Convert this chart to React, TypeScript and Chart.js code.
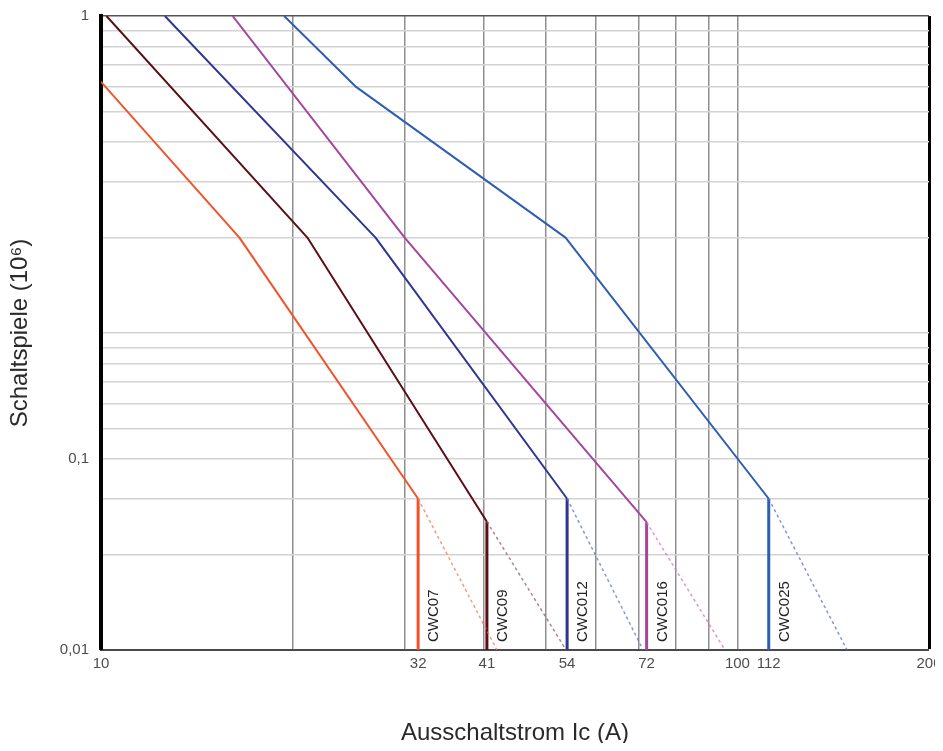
import React, { useEffect, useRef } from 'react';
import { Chart, registerables } from 'chart.js';

Chart.register(...registerables);

// ---- axis ranges ----
const xMin = 10;
const xMax = 200;
const yMin = 0.01;
const yMax = 1;

// ---- series ----
const seriesNames = ['CWC07', 'CWC09', 'CWC012', 'CWC016', 'CWC025'];
const seriesColors = ['#f0532a', '#5a0f17', '#2f3593', '#a4459e', '#2e5db2'];
const dashColors = [
  'rgba(245,120,80,0.75)',
  'rgba(150,90,100,0.75)',
  'rgba(100,110,210,0.75)',
  'rgba(225,110,185,0.75)',
  'rgba(90,115,215,0.75)',
];

const cwc07X = [10, 16.5, 31.5];
const cwc07Y = [0.62, 0.2, 0.03];
const cwc09X = [10.2, 21.1, 40.4];
const cwc09Y = [1, 0.2, 0.0254];
const cwc012X = [12.6, 27, 54];
const cwc012Y = [1, 0.2, 0.03];
const cwc016X = [16.1, 30, 72];
const cwc016Y = [1, 0.2, 0.0253];
const cwc025X = [19.4, 25.1, 53.7, 112];
const cwc025Y = [1, 0.6, 0.2, 0.03];
const dashEndX = [41.9, 53.8, 71.1, 95.6, 148.7];

const seriesX = [cwc07X, cwc09X, cwc012X, cwc016X, cwc025X];
const seriesY = [cwc07Y, cwc09Y, cwc012Y, cwc016Y, cwc025Y];

// ---- ticks / grid ----
const xGridValues = [20, 30, 40, 50, 60, 70, 80, 90, 100];
const xLabelValues = [10, 31.5, 40.4, 54, 72, 100, 112, 200];
const xLabelTexts = ['10', '32', '41', '54', '72', '100', '112', '200'];
const yGridValues = [0.02, 0.03, 0.04, 0.05, 0.06, 0.07, 0.08, 0.09, 0.1, 0.2, 0.3, 0.4, 0.5, 0.6, 0.7, 0.8, 0.9];
const yLabelValues = [1, 0.04, 0.01];
const yLabelTexts = ['1', '0,1', '0,01'];

const xTitle = 'Ausschaltstrom Ic (A)';
const yTitle = 'Schaltspiele (10\u2076)';

const FONT = "'Liberation Sans', Arial, Helvetica, sans-serif";

const near = (a: number, b: number) => Math.abs(a - b) <= Math.abs(b) * 1e-6;
const findIdx = (arr: number[], v: number) => arr.findIndex((t) => near(v, t));

const curveLabels = {
  id: 'curveLabels',
  afterDatasetsDraw(chart: any) {
    const { ctx, scales } = chart;
    const xs = scales.x;
    const ys = scales.y;
    ctx.save();
    ctx.fillStyle = '#222';
    ctx.font = `15px ${FONT}`;
    ctx.textAlign = 'left';
    ctx.textBaseline = 'alphabetic';
    seriesNames.forEach((name, i) => {
      const xv = seriesX[i][seriesX[i].length - 1];
      const px = xs.getPixelForValue(xv);
      const py = ys.getPixelForValue(yMin);
      ctx.save();
      ctx.translate(px + 20, py - 8);
      ctx.rotate(-Math.PI / 2);
      ctx.fillText(name, 0, 0);
      ctx.restore();
    });
    ctx.restore();
  },
};

export default function App() {
  const ref = useRef<HTMLCanvasElement | null>(null);

  useEffect(() => {
    if (!ref.current) return;
    const datasets: any[] = [];
    // dashed extensions (behind)
    seriesNames.forEach((name, i) => {
      const xs = seriesX[i];
      const ys = seriesY[i];
      const lx = xs[xs.length - 1];
      const ly = ys[ys.length - 1];
      datasets.push({
        label: name + ' dash',
        data: [
          { x: lx, y: ly },
          { x: dashEndX[i], y: yMin },
        ],
        borderColor: dashColors[i],
        borderWidth: 1.5,
        borderDash: [3, 3],
        pointRadius: 0,
        fill: false,
      });
    });
    seriesNames.forEach((name, i) => {
      const xs = seriesX[i];
      const ys = seriesY[i];
      const lx = xs[xs.length - 1];
      const ly = ys[ys.length - 1];
      datasets.push({
        label: name,
        data: xs.map((x, k) => ({ x, y: ys[k] })),
        borderColor: seriesColors[i],
        borderWidth: 2,
        borderJoinStyle: 'round',
        pointRadius: 0,
        fill: false,
      });
      datasets.push({
        label: name + ' limit',
        data: [
          { x: lx, y: ly },
          { x: lx, y: yMin },
        ],
        borderColor: seriesColors[i],
        borderWidth: 3,
        pointRadius: 0,
        fill: false,
      });
    });

    const chart = new Chart(ref.current, {
      type: 'line',
      data: { datasets },
      options: {
        responsive: false,
        animation: false,
        devicePixelRatio: 1,
        layout: { padding: { left: 0, right: 14, top: 8, bottom: 0 } },
        elements: { line: { tension: 0 }, point: { radius: 0 } },
        plugins: { legend: { display: false }, tooltip: { enabled: false } },
        scales: {
          x: {
            type: 'logarithmic',
            min: xMin,
            max: xMax,
            afterBuildTicks: (s: any) => {
              const vals = Array.from(new Set([...xLabelValues, ...xGridValues])).sort((a, b) => a - b);
              s.ticks = vals.map((v) => ({ value: v }));
            },
            afterFit: (s: any) => {
              s.height = 93;
              s.paddingLeft = 0;
              s.paddingRight = 0;
            },
            grid: {
              drawTicks: false,
              color: (c: any) => {
                const v = c.tick ? c.tick.value : 0;
                if (near(v, xMax)) return '#000';
                if (findIdx(xGridValues, v) >= 0) return '#8f8f8f';
                return 'rgba(0,0,0,0)';
              },
              lineWidth: (c: any) => {
                const v = c.tick ? c.tick.value : 0;
                if (near(v, xMax)) return 3;
                if (findIdx(xGridValues, v) >= 0) return 1.5;
                return 0;
              },
            },
            border: { color: '#4a4a4a', width: 2 },
            ticks: {
              autoSkip: false,
              maxRotation: 0,
              minRotation: 0,
              padding: 5,
              color: '#4d4d4d',
              font: { family: FONT, size: 15 },
              callback: (v: any) => {
                const i = findIdx(xLabelValues, Number(v));
                return i >= 0 ? xLabelTexts[i] : '';
              },
            },
            title: {
              display: true,
              text: xTitle,
              color: '#2a2a2a',
              font: { family: FONT, size: 24, lineHeight: 1 },
              padding: { top: 0, bottom: -2 },
            },
          },
          y: {
            type: 'logarithmic',
            min: yMin,
            max: yMax,
            afterBuildTicks: (s: any) => {
              const vals = [yMin, ...yGridValues, yMax];
              s.ticks = vals.map((v) => ({ value: v }));
            },
            afterFit: (s: any) => {
              s.width = 93;
              s.paddingTop = 0;
              s.paddingBottom = 0;
            },
            grid: {
              drawTicks: false,
              color: (c: any) => {
                const v = c.tick ? c.tick.value : 0;
                if (near(v, yMax)) return '#555';
                if (near(v, yMin)) return 'rgba(0,0,0,0)';
                return '#d3d3d3';
              },
              lineWidth: (c: any) => {
                const v = c.tick ? c.tick.value : 0;
                if (near(v, yMin)) return 0;
                return 1.5;
              },
            },
            border: { color: '#000', width: 4 },
            ticks: {
              autoSkip: false,
              padding: 12,
              color: '#4d4d4d',
              font: { family: FONT, size: 15, lineHeight: 1 },
              callback: (v: any) => {
                const i = findIdx(yLabelValues, Number(v));
                return i >= 0 ? yLabelTexts[i] : '';
              },
            },
            title: {
              display: true,
              text: yTitle,
              color: '#2a2a2a',
              font: { family: FONT, size: 24, lineHeight: 1 },
              padding: { top: 0, bottom: 0 },
            },
          },
        },
      },
      plugins: [curveLabels],
    } as any);
    return () => chart.destroy();
  }, []);

  return (
    <div style={{ width: 935, height: 735 }}>
      <canvas ref={ref} width={935} height={735} style={{ display: 'block', width: 935, height: 735 }} />
    </div>
  );
}
